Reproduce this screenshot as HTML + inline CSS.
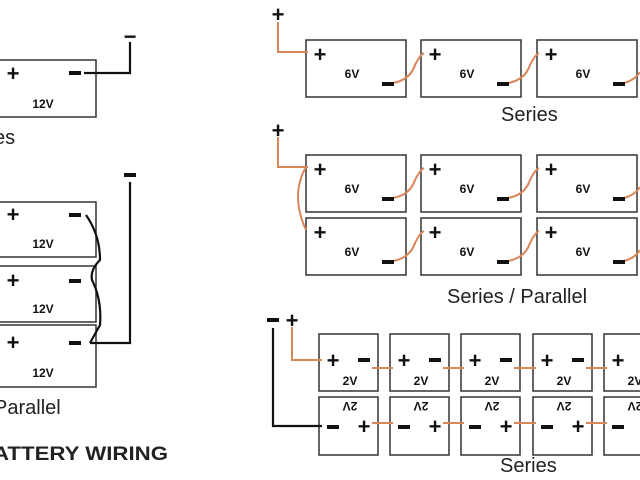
<!DOCTYPE html>
<html><head><meta charset="utf-8"><style>
body{margin:0;background:#fff}
svg{display:block}
text{font-family:"Liberation Sans",sans-serif}
.b{font-weight:bold}
</style></head><body>
<svg width="640" height="480" viewBox="0 0 640 480" xmlns="http://www.w3.org/2000/svg">
<g fill="none" stroke="#333" stroke-width="1.5">
<rect x="-5" y="60" width="101" height="57"/>
<rect x="-5" y="202" width="101" height="55"/>
<rect x="-5" y="266" width="101" height="56"/>
<rect x="-5" y="325" width="101" height="62"/>
<rect x="306" y="40" width="100" height="57"/>
<rect x="421" y="40" width="100" height="57"/>
<rect x="537" y="40" width="100" height="57"/>
<rect x="306" y="155" width="100" height="57"/>
<rect x="421" y="155" width="100" height="57"/>
<rect x="537" y="155" width="100" height="57"/>
<rect x="306" y="218" width="100" height="57"/>
<rect x="421" y="218" width="100" height="57"/>
<rect x="537" y="218" width="100" height="57"/>
<rect x="319" y="334" width="59" height="57"/><rect x="390" y="334" width="59" height="57"/><rect x="461" y="334" width="59" height="57"/><rect x="533" y="334" width="59" height="57"/><rect x="604" y="334" width="59" height="57"/>
<rect x="319" y="397" width="59" height="58"/><rect x="390" y="397" width="59" height="58"/><rect x="461" y="397" width="59" height="58"/><rect x="533" y="397" width="59" height="58"/><rect x="604" y="397" width="59" height="58"/>
</g>
<g fill="none" stroke="#111" stroke-width="2.2">
<path d="M84 73 H130 V42"/>
<path d="M130 182 V343 H90"/>
<path d="M86 215 Q100 235 100 260 Q90 270 92 280 Q102 300 100 325 L90 343"/>
<path d="M273 328 V426 H322"/>
</g>
<g fill="none" stroke="#d9875a" stroke-width="2">
<path d="M278 22 V52 H308"/>
<path d="M278 137 V167 H308"/>
<path d="M306 167 Q290 195 306 230"/>
<path d="M292 327 V360 H322"/>
<path d="M393 83 Q410 80 415 65 Q420 55 424 53"/><path d="M508 83 Q525 80 530 65 Q535 55 539 53"/><path d="M624 83 Q635 80 640 72"/>
<path d="M393 198 Q410 195 415 180 Q420 170 424 168"/><path d="M508 198 Q525 195 530 180 Q535 170 539 168"/><path d="M624 198 Q635 195 640 187"/>
<path d="M393 261 Q410 258 415 243 Q420 233 424 231"/><path d="M508 261 Q525 258 530 243 Q535 233 539 231"/><path d="M624 261 Q635 258 640 250"/>
<path d="M372 368 H393"/><path d="M443 368 H464"/><path d="M514 368 H536"/><path d="M586 368 H607"/>
<path d="M372 423 H393"/><path d="M443 423 H464"/><path d="M514 423 H536"/><path d="M586 423 H607"/>
</g>
<g fill="#111" class="b" font-size="22" text-anchor="middle">
<text x="13" y="81">+</text><text x="130" y="44">−</text>
<text x="13" y="222">+</text>
<text x="13" y="288">+</text>
<text x="13" y="350">+</text>
<text x="278" y="22">+</text><text x="278" y="138">+</text>
<text x="320" y="62">+</text><text x="435" y="62">+</text><text x="551" y="62">+</text>
<text x="320" y="177">+</text><text x="435" y="177">+</text><text x="551" y="177">+</text>
<text x="320" y="240">+</text><text x="435" y="240">+</text><text x="551" y="240">+</text>
<text x="292" y="328">+</text>
<text x="333" y="368">+</text><text x="404" y="368">+</text><text x="475" y="368">+</text><text x="547" y="368">+</text><text x="618" y="368">+</text>
<text x="364" y="434">+</text><text x="435" y="434">+</text><text x="506" y="434">+</text><text x="578" y="434">+</text>
</g>
<g fill="#111">
<rect x="69" y="71" width="12" height="4"/>
<rect x="69" y="213" width="12" height="4"/>
<rect x="69" y="279" width="12" height="4"/>
<rect x="69" y="341" width="12" height="4"/>
<rect x="124" y="173" width="12" height="4"/>
<rect x="382" y="82" width="12" height="4"/><rect x="497" y="82" width="12" height="4"/><rect x="613" y="82" width="12" height="4"/>
<rect x="382" y="197" width="12" height="4"/><rect x="497" y="197" width="12" height="4"/><rect x="613" y="197" width="12" height="4"/>
<rect x="382" y="260" width="12" height="4"/><rect x="497" y="260" width="12" height="4"/><rect x="613" y="260" width="12" height="4"/>
<rect x="267" y="318" width="12" height="4"/>
<rect x="358" y="358" width="12" height="4"/><rect x="429" y="358" width="12" height="4"/><rect x="500" y="358" width="12" height="4"/><rect x="572" y="358" width="12" height="4"/>
<rect x="327" y="425" width="12" height="4"/><rect x="398" y="425" width="12" height="4"/><rect x="469" y="425" width="12" height="4"/><rect x="541" y="425" width="12" height="4"/><rect x="612" y="425" width="12" height="4"/>
</g>
<g fill="#111" class="b" font-size="12" text-anchor="middle">
<text x="43" y="108">12V</text><text x="43" y="248">12V</text><text x="43" y="313">12V</text><text x="43" y="377">12V</text>
<text x="352" y="78">6V</text><text x="467" y="78">6V</text><text x="583" y="78">6V</text>
<text x="352" y="193">6V</text><text x="467" y="193">6V</text><text x="583" y="193">6V</text>
<text x="352" y="256">6V</text><text x="467" y="256">6V</text><text x="583" y="256">6V</text>
<text x="350" y="385">2V</text><text x="421" y="385">2V</text><text x="492" y="385">2V</text><text x="564" y="385">2V</text><text x="635" y="385">2V</text>
<g transform="rotate(180 350 406)"><text x="350" y="410">2V</text></g>
<g transform="rotate(180 421 406)"><text x="421" y="410">2V</text></g>
<g transform="rotate(180 492 406)"><text x="492" y="410">2V</text></g>
<g transform="rotate(180 564 406)"><text x="564" y="410">2V</text></g>
<g transform="rotate(180 635 406)"><text x="635" y="410">2V</text></g>
</g>
<g fill="#222" font-size="20">
<text x="-6" y="144">es</text>
<text x="-6" y="414">Parallel</text>
<text x="501" y="121">Series</text>
<text x="447" y="303">Series / Parallel</text>
<text x="500" y="472">Series</text>
<text x="-7" y="460" class="b" font-size="19" textLength="175" lengthAdjust="spacingAndGlyphs">ATTERY WIRING</text>
</g>
</svg>
</body></html>
